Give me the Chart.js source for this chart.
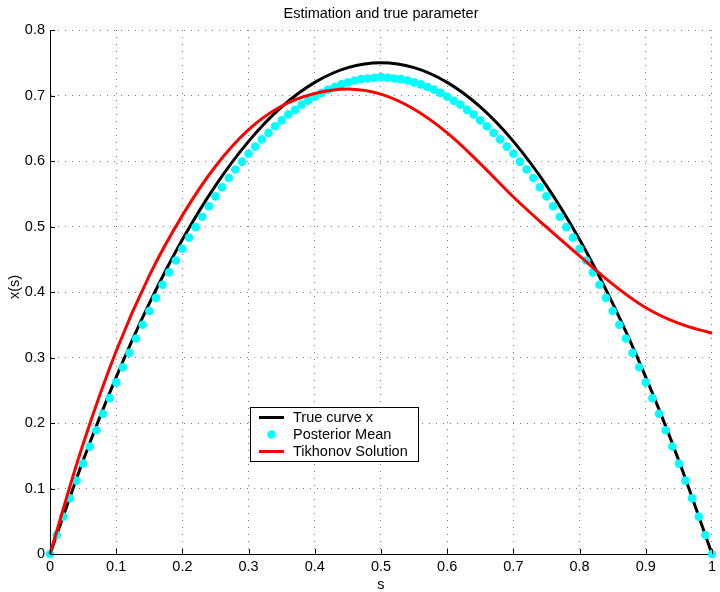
<!DOCTYPE html>
<html>
<head>
<meta charset="utf-8">
<script src="https://cdn.jsdelivr.net/npm/chart.js@4"></script>
<style>
  html, body { margin: 0; padding: 0; background: #fff; }
  canvas { display: block; }
</style>
</head>
<body>
<canvas id="chart" width="720" height="592"></canvas>
<script>
// s positions of the sampled curves
const sCoarse = [0, 0.05, 0.1, 0.15, 0.2, 0.25, 0.3, 0.35, 0.4, 0.45, 0.5,
                 0.55, 0.6, 0.65, 0.7, 0.75, 0.8, 0.85, 0.9, 0.95, 1];
const sFine = [0, 0.01, 0.02, 0.03, 0.04, 0.05, 0.06, 0.07, 0.08, 0.09,
               0.1, 0.11, 0.12, 0.13, 0.14, 0.15, 0.16, 0.17, 0.18, 0.19,
               0.2, 0.21, 0.22, 0.23, 0.24, 0.25, 0.26, 0.27, 0.28, 0.29,
               0.3, 0.31, 0.32, 0.33, 0.34, 0.35, 0.36, 0.37, 0.38, 0.39,
               0.4, 0.41, 0.42, 0.43, 0.44, 0.45, 0.46, 0.47, 0.48, 0.49,
               0.5, 0.51, 0.52, 0.53, 0.54, 0.55, 0.56, 0.57, 0.58, 0.59,
               0.6, 0.61, 0.62, 0.63, 0.64, 0.65, 0.66, 0.67, 0.68, 0.69,
               0.7, 0.71, 0.72, 0.73, 0.74, 0.75, 0.76, 0.77, 0.78, 0.79,
               0.8, 0.81, 0.82, 0.83, 0.84, 0.85, 0.86, 0.87, 0.88, 0.89,
               0.9, 0.91, 0.92, 0.93, 0.94, 0.95, 0.96, 0.97, 0.98, 0.99, 1];

// true parameter x(s)
const trueCurve = [0, 0.1425, 0.27, 0.3825, 0.48, 0.5625, 0.63, 0.6825, 0.72, 0.7425, 0.75,
                   0.7425, 0.72, 0.6825, 0.63, 0.5625, 0.48, 0.3825, 0.27, 0.1425, 0];

// posterior mean estimate on the fine grid
const posteriorMean = [0.000, 0.029, 0.057, 0.085, 0.112, 0.138, 0.164, 0.189, 0.214, 0.238,
                       0.262, 0.285, 0.307, 0.329, 0.350, 0.371, 0.391, 0.411, 0.430, 0.448,
                       0.466, 0.483, 0.499, 0.515, 0.531, 0.546, 0.560, 0.574, 0.587, 0.599,
                       0.611, 0.622, 0.633, 0.643, 0.653, 0.662, 0.671, 0.678, 0.686, 0.692,
                       0.698, 0.704, 0.709, 0.713, 0.717, 0.720, 0.723, 0.725, 0.726, 0.727,
                       0.728, 0.727, 0.726, 0.725, 0.723, 0.720, 0.717, 0.713, 0.709, 0.704,
                       0.698, 0.692, 0.686, 0.678, 0.671, 0.662, 0.653, 0.643, 0.633, 0.622,
                       0.611, 0.599, 0.587, 0.574, 0.560, 0.546, 0.531, 0.515, 0.499, 0.483,
                       0.466, 0.448, 0.430, 0.411, 0.391, 0.371, 0.350, 0.329, 0.307, 0.285,
                       0.262, 0.238, 0.214, 0.189, 0.164, 0.138, 0.112, 0.085, 0.057, 0.029, 0.000];

// Tikhonov regularised solution
const tikhonov = [0, 0.168, 0.310, 0.425, 0.517, 0.592, 0.648, 0.684, 0.703, 0.710, 0.702,
                  0.679, 0.643, 0.596, 0.545, 0.499, 0.455, 0.412, 0.376, 0.352, 0.337];

const seriesNames = ['True curve x', 'Posterior Mean', 'Tikhonov Solution'];
const titleText = 'Estimation and true parameter';
const xLabel = 's';
const yLabel = 'x(s)';

const FONT = '"Liberation Sans", Arial, Helvetica, sans-serif';
const FS = 14.5;

const pts = (xs, ys) => xs.map((x, i) => ({ x: x, y: ys[i] }));
const fmt = v => String(Number(v.toFixed(2)));

// Title, axis labels, inward tick marks and the boxed legend
const decorations = {
  id: 'decorations',
  afterDraw(chart) {
    const ctx = chart.ctx;
    const a = chart.chartArea;
    const xs = chart.scales.x, ys = chart.scales.y;
    ctx.save();

    // inward tick marks
    ctx.strokeStyle = '#000';
    ctx.lineWidth = 1;
    ctx.beginPath();
    xs.ticks.forEach(t => {
      const px = Math.round(xs.getPixelForValue(t.value)) + 0.5;
      ctx.moveTo(px, a.bottom);
      ctx.lineTo(px, a.bottom - 5);
    });
    ys.ticks.forEach(t => {
      const py = Math.round(ys.getPixelForValue(t.value)) + 0.5;
      ctx.moveTo(a.left, py);
      ctx.lineTo(a.left + 5, py);
    });
    ctx.stroke();

    // texts
    ctx.fillStyle = '#000';
    ctx.font = FS + 'px ' + FONT;
    ctx.textAlign = 'center';
    ctx.textBaseline = 'alphabetic';
    ctx.fillText(titleText, (a.left + a.right) / 2, 17.5);
    ctx.fillText(xLabel, (a.left + a.right) / 2, 589);
    ctx.save();
    ctx.translate(19, (a.top + a.bottom) / 2 - 5);
    ctx.rotate(-Math.PI / 2);
    ctx.fillText(yLabel, 0, 0);
    ctx.restore();

    // legend box
    const bx = 250.5, by = 407.5, bw = 168, bh = 54;
    ctx.fillStyle = '#fff';
    ctx.fillRect(bx, by, bw, bh);
    ctx.strokeStyle = '#000';
    ctx.lineWidth = 1;
    ctx.strokeRect(bx, by, bw, bh);
    const rows = [417.5, 434.5, 451.5];
    const ds = chart.data.datasets;
    ctx.textAlign = 'left';
    ctx.textBaseline = 'middle';
    rows.forEach((ry, i) => {
      const d = ds[i];
      if (d.showLine === false) {
        ctx.fillStyle = d.pointBackgroundColor;
        ctx.beginPath();
        ctx.arc(271.5, ry, 4.3, 0, Math.PI * 2);
        ctx.fill();
      } else {
        ctx.strokeStyle = d.borderColor;
        ctx.lineWidth = d.borderWidth;
        ctx.beginPath();
        ctx.moveTo(259, ry);
        ctx.lineTo(284, ry);
        ctx.stroke();
      }
      ctx.fillStyle = '#000';
      ctx.fillText(d.label, 293, ry + 0.5);
    });
    ctx.restore();
  }
};

new Chart(document.getElementById('chart'), {
  type: 'line',
  data: {
    datasets: [
      {
        label: seriesNames[0],
        data: pts(sCoarse, trueCurve),
        borderColor: '#000000',
        borderWidth: 3,
        pointRadius: 0,
        cubicInterpolationMode: 'monotone',
        order: 3
      },
      {
        label: seriesNames[1],
        data: pts(sFine, posteriorMean),
        showLine: false,
        pointRadius: 4.3,
        pointBorderWidth: 0,
        pointBackgroundColor: '#00FFFF',
        pointBorderColor: '#00FFFF',
        order: 2
      },
      {
        label: seriesNames[2],
        data: pts(sCoarse, tikhonov),
        borderColor: '#FF0000',
        borderWidth: 3,
        pointRadius: 0,
        tension: 0.4,
        order: 1
      }
    ]
  },
  options: {
    responsive: false,
    animation: false,
    devicePixelRatio: 1,
    clip: false,
    layout: { padding: { top: 30, right: 4, bottom: 0, left: 0 } },
    plugins: {
      legend: { display: false },
      title: { display: false },
      tooltip: { enabled: false }
    },
    scales: {
      x: {
        type: 'linear',
        min: 0, max: 1,
        afterFit: s => { s.height = 38; },
        ticks: {
          stepSize: 0.1,
          padding: 4,
          color: '#000',
          maxRotation: 0,
          autoSkip: false,
          font: { family: FONT, size: FS },
          callback: v => fmt(v)
        },
        grid: { color: '#7a7a7a', lineWidth: 1, drawTicks: false },
        border: { display: true, color: '#000', width: 1, dash: [1, 6] }
      },
      y: {
        type: 'linear',
        min: 0, max: 0.8,
        afterFit: s => { s.width = 50; },
        ticks: {
          stepSize: 0.1,
          padding: 5,
          color: '#000',
          autoSkip: false,
          font: { family: FONT, size: FS },
          callback: v => fmt(v)
        },
        grid: { color: '#7a7a7a', lineWidth: 1, drawTicks: false },
        border: { display: true, color: '#000', width: 1, dash: [1, 6] }
      }
    }
  },
  plugins: [decorations]
});
</script>
</body>
</html>
